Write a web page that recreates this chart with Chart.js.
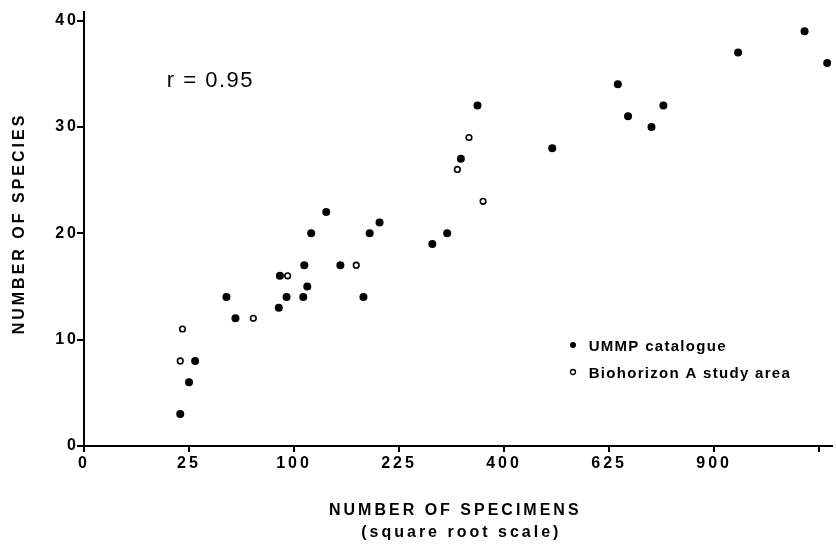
<!DOCTYPE html>
<html>
<head>
<meta charset="utf-8">
<title>Species vs specimens</title>
<script src="https://cdn.jsdelivr.net/npm/chart.js@4"></script>
<style>
  body { margin: 0; background: #fff; }
  #wrap { width: 836px; height: 545px; }
</style>
</head>
<body>
<div id="wrap"><canvas id="myChart" width="836" height="545"></canvas></div>
<script>
// UMMP catalogue (filled dots)
const ummpSpecimens = [21, 25, 28, 46, 52, 86, 87, 93, 109, 110, 113, 117, 133, 149, 177, 185, 198,
  275, 299, 322, 351, 497, 646, 671, 730, 761, 970, 1177, 1252];
const ummpSpecies = [3, 6, 8, 14, 12, 13, 16, 14, 14, 17, 15, 20, 22, 17, 14, 20, 21,
  19, 20, 27, 32, 28, 34, 31, 30, 32, 37, 39, 36];

// Biohorizon A study area (open dots)
const bioSpecimens = [21, 22, 65, 94, 168, 316, 336, 361];
const bioSpecies = [8, 11, 12, 16, 17, 26, 29, 23];

// axes
const xTickValues = [0, 25, 100, 225, 400, 625, 900, 1225];
const xTickLabels = ['0', '25', '100', '225', '400', '625', '900', ''];
const xMax = 1267;
const yTickValues = [0, 10, 20, 30, 40];
const yMax = 40.8;

const FONT = "'Liberation Sans', Arial, Helvetica, sans-serif";

function toPoints(specimens, species) {
  // x axis is drawn on a square root scale
  let pts = [];
  for (let i = 0; i < specimens.length; i++) {
    pts.push({ x: Math.sqrt(specimens[i]), y: species[i] });
  }
  return pts;
}

function spacedText(ctx, text, x, y, spacing) {
  ctx.letterSpacing = spacing + 'px';
  ctx.fillText(text, x + spacing / 2, y);
  ctx.letterSpacing = '0px';
}

// wide tracking on the tick numbers, like the printed figure
const trackingPlugin = {
  id: 'tracking',
  beforeDraw(chart) {
    chart.ctx.letterSpacing = '3px';
  },
  beforeDatasetsDraw(chart) {
    chart.ctx.letterSpacing = '0px';
  }
};

const labelsPlugin = {
  id: 'labels',
  afterDraw(chart) {
    const ctx = chart.ctx;
    const area = chart.chartArea;
    ctx.save();
    ctx.fillStyle = '#000';
    ctx.strokeStyle = '#000';

    // x axis title
    ctx.font = 'bold 16px ' + FONT;
    ctx.textAlign = 'center';
    ctx.textBaseline = 'middle';
    let cx = (area.left + area.right) / 2;
    spacedText(ctx, 'NUMBER OF SPECIMENS', cx - 4, 511, 3);
    spacedText(ctx, '(square root scale)', cx + 2, 533, 3);

    // y axis title
    ctx.save();
    ctx.translate(20, 225);
    ctx.rotate(-Math.PI / 2);
    spacedText(ctx, 'NUMBER OF SPECIES', 0, 0, 3);
    ctx.restore();

    // correlation
    ctx.font = '22px ' + FONT;
    ctx.textAlign = 'left';
    ctx.textBaseline = 'alphabetic';
    spacedText(ctx, 'r = 0.95', 166, 87, 1.5);

    // legend
    const rows = [
      { label: chart.data.datasets[0].label, filled: true, y: 345 },
      { label: chart.data.datasets[1].label, filled: false, y: 372 }
    ];
    ctx.font = 'bold 15px ' + FONT;
    rows.forEach((row) => {
      ctx.beginPath();
      ctx.arc(573, row.y, row.filled ? 3 : 2.5, 0, Math.PI * 2);
      if (row.filled) {
        ctx.fill();
      } else {
        ctx.lineWidth = 1.3;
        ctx.stroke();
      }
      spacedText(ctx, row.label, 588, row.y + 5.5, 1.3);
    });
    ctx.restore();
  }
};

const data = {
  datasets: [{
    label: 'UMMP catalogue',
    data: toPoints(ummpSpecimens, ummpSpecies),
    pointRadius: 4,
    pointBackgroundColor: '#000',
    pointBorderColor: '#000',
    pointBorderWidth: 0,
    pointHoverRadius: 4
  }, {
    label: 'Biohorizon A study area',
    data: toPoints(bioSpecimens, bioSpecies),
    pointRadius: 2.8,
    pointBackgroundColor: '#fff',
    pointBorderColor: '#000',
    pointBorderWidth: 1.6,
    pointHoverRadius: 2.8
  }]
};

const config = {
  type: 'scatter',
  data: data,
  options: {
    responsive: false,
    animation: false,
    layout: { padding: { top: 12, left: 0, right: 0, bottom: 0 } },
    plugins: {
      legend: { display: false },
      tooltip: { enabled: false }
    },
    scales: {
      x: {
        type: 'linear',
        min: 0,
        max: Math.sqrt(xMax),
        afterBuildTicks: (scale) => {
          scale.ticks = xTickValues.map((v) => ({ value: Math.sqrt(v) }));
        },
        afterFit: (scale) => { scale.height = 99; },
        ticks: {
          autoSkip: false,
          maxRotation: 0,
          padding: 2,
          color: '#000',
          font: { family: FONT, size: 16, weight: 'bold' },
          callback: (value, index) => xTickLabels[index]
        },
        grid: { drawOnChartArea: false, color: '#000', lineWidth: 2, tickLength: 6 },
        border: { color: '#000', width: 2 }
      },
      y: {
        min: 0,
        max: yMax,
        afterBuildTicks: (scale) => {
          scale.ticks = yTickValues.map((v) => ({ value: v }));
        },
        afterFit: (scale) => { scale.width = 84; },
        ticks: {
          autoSkip: false,
          padding: -2,
          color: '#000',
          font: { family: FONT, size: 16, weight: 'bold' },
          callback: (value) => String(value)
        },
        grid: { drawOnChartArea: false, color: '#000', lineWidth: 2, tickLength: 7 },
        border: { color: '#000', width: 2 }
      }
    }
  },
  plugins: [trackingPlugin, labelsPlugin]
};

const myChart = new Chart(document.getElementById('myChart'), config);
</script>
</body>
</html>
